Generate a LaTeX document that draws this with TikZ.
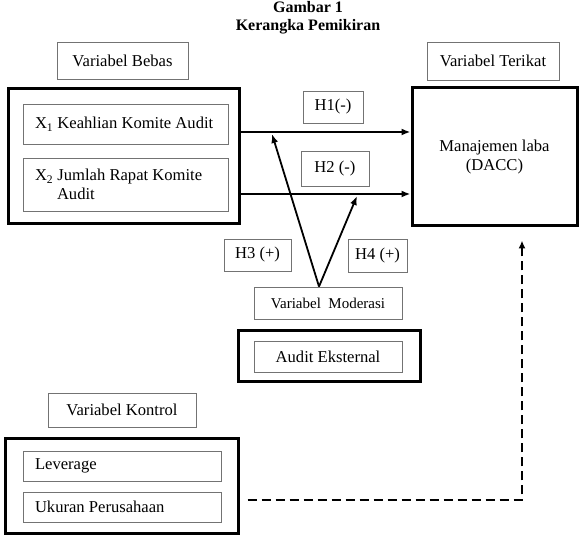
\documentclass[tikz,border=0pt]{standalone}
\usepackage{fontspec}
\setmainfont{Liberation Serif}
\usetikzlibrary{arrows.meta,calc}
\tikzset{
  thinbox/.style={draw=black!55, line width=0.9pt, inner sep=0pt, font=\fontsize{16.6}{19}\selectfont, align=center},
  lbox/.style={thinbox, align=left, inner xsep=12pt},
  thickbox/.style={draw=black, line width=3pt, inner sep=0pt},
  arr/.style={line width=1.8pt, -{Latex[length=9pt,width=7pt]}},
  dsh/.style={line width=2.2pt, dash pattern=on 9pt off 5pt, -{Latex[length=8pt,width=7pt]}},
}
\begin{document}
\begin{tikzpicture}[x=1pt,y=-1pt]
\useasboundingbox (0,0) rectangle (582,545);
% title
\node[font=\bfseries\fontsize{16}{18}\selectfont, align=center, inner sep=0pt] (title) at (308,18) {Gambar 1\\Kerangka Pemikiran};
% headers
\node[thinbox, minimum width=131pt, minimum height=37pt] (bebas) at (122.5,60.5) {Variabel Bebas};
\node[thinbox, minimum width=132pt, minimum height=38pt] (terikat) at (493,61) {Variabel Terikat};
% independent variables
\node[thickbox, minimum width=231pt, minimum height=135pt] (leftbox) at (123.5,156.5) {};
\node[lbox, minimum height=40pt] (x1) at (125.5,124) {\makebox[181pt][l]{X\textsubscript{1} Keahlian Komite Audit}};
\node[lbox, minimum height=53pt] (x2) at (125.5,184.5) {\makebox[181pt][l]{X\textsubscript{2} Jumlah Rapat Komite}\\\hspace*{22pt}Audit};
% dependent
\node[thickbox, minimum width=165pt, minimum height=138pt, align=center, font=\fontsize{16.6}{19}\selectfont] (dv) at (494.5,157) {Manajemen laba\\(DACC)};
% hypotheses
\node[thinbox, minimum width=60pt, minimum height=32pt] (h1) at (333,107) {H1(-)};
\node[thinbox, minimum width=68pt, minimum height=35pt] (h2) at (335,168.5) {H2 (-)};
\node[thinbox, minimum width=67pt, minimum height=32pt] (h3) at (257.5,255) {H3 (+)};
\node[thinbox, minimum width=59pt, minimum height=33pt] (h4) at (377.5,255.5) {H4 (+)};
% moderation
\node[thinbox, minimum width=148pt, minimum height=32pt, font=\fontsize{15}{17}\selectfont] (moder) at (328,303) {Variabel\ \ Moderasi};
\node[thickbox, minimum width=182pt, minimum height=51pt] (audout) at (329,356.5) {};
\node[thinbox, minimum width=148pt, minimum height=31pt] (audin) at (328,356.5) {Audit Eksternal};
% control
\node[thinbox, minimum width=148pt, minimum height=34pt] (kontrol) at (122,410) {Variabel Kontrol};
\node[thickbox, minimum width=233pt, minimum height=95pt] (ctrlout) at (121.5,486.5) {};
\node[lbox, minimum height=30pt] (lev) at (122,466) {\makebox[174pt][l]{Leverage}};
\node[lbox, minimum height=30pt] (uk) at (122,507) {\makebox[174pt][l]{Ukuran Perusahaan}};
% connectors
\draw[arr] ([yshift=24.5pt]leftbox.east) -- ([yshift=24.5pt]leftbox.east -| dv.west);
\draw[arr] ([yshift=-37.5pt]leftbox.east) -- ([yshift=-37.5pt]leftbox.east -| dv.west);
\coordinate (m1) at (272,134);
\coordinate (m2) at (357,196);
\draw[arr] ([xshift=-9pt]moder.north) -- (m1);
\draw[arr] ([xshift=-9pt]moder.north) -- (m2);
\draw[dsh] ([xshift=8pt,yshift=-13.5pt]ctrlout.east) -| ([xshift=27.5pt,yshift=-13pt]dv.south);
\end{tikzpicture}
\end{document}
